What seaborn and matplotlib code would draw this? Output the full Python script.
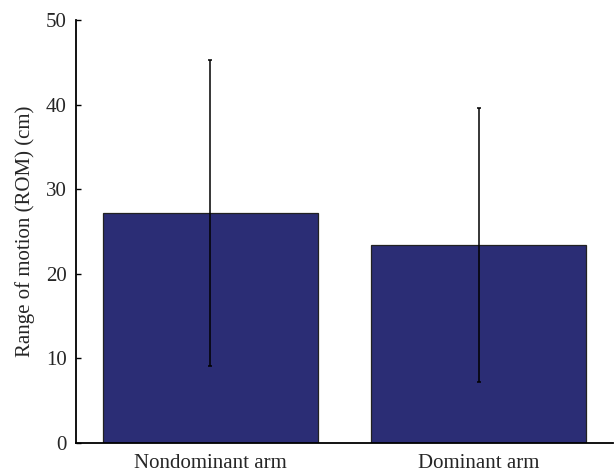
import numpy as np
import pandas as pd
import matplotlib
matplotlib.use("Agg")
import matplotlib.pyplot as plt
import seaborn as sns

arms = ["Nondominant arm", "Dominant arm"]
rom_mean = [27.2, 23.4]
rom_sd = [18.1, 16.2]

sns.set_style("white")
plt.rcParams['font.family'] = ['Liberation Serif', 'DejaVu Serif']

df = pd.DataFrame({"arm": arms, "rom": rom_mean, "sd": rom_sd})

fig = plt.figure(figsize=(6.14, 4.72), dpi=100)
ax = fig.add_axes([0.1238, 0.062, 0.8742, 0.8956])

sns.barplot(data=df, x="arm", y="rom", color="#2b2d75", saturation=1,
            width=0.8, edgecolor="#222222", linewidth=0.9, errorbar=None, ax=ax)
ax.errorbar(x=np.arange(len(arms)), y=df["rom"], yerr=df["sd"], fmt="none",
            ecolor="black", elinewidth=1.1, capsize=1.6, capthick=1.1)

ax.set_xlim(-0.5, 1.5)
ax.set_ylim(0, 50)
ax.set_yticks([0, 10, 20, 30, 40, 50])
ax.set_xlabel("")
ax.set_ylabel("Range of motion (ROM) (cm)", fontsize=15, labelpad=8)
ax.tick_params(axis="y", which="both", left=True, direction="in", length=3.5,
               width=1, labelsize=15, pad=6.5, color="black")
ax.tick_params(axis="x", bottom=False, labelsize=15, pad=4.5)
for s in ["top", "right"]:
    ax.spines[s].set_visible(False)
for s in ["left", "bottom"]:
    ax.spines[s].set_color("black")
    ax.spines[s].set_linewidth(1.3)

fig.savefig("out.png", dpi=100)
